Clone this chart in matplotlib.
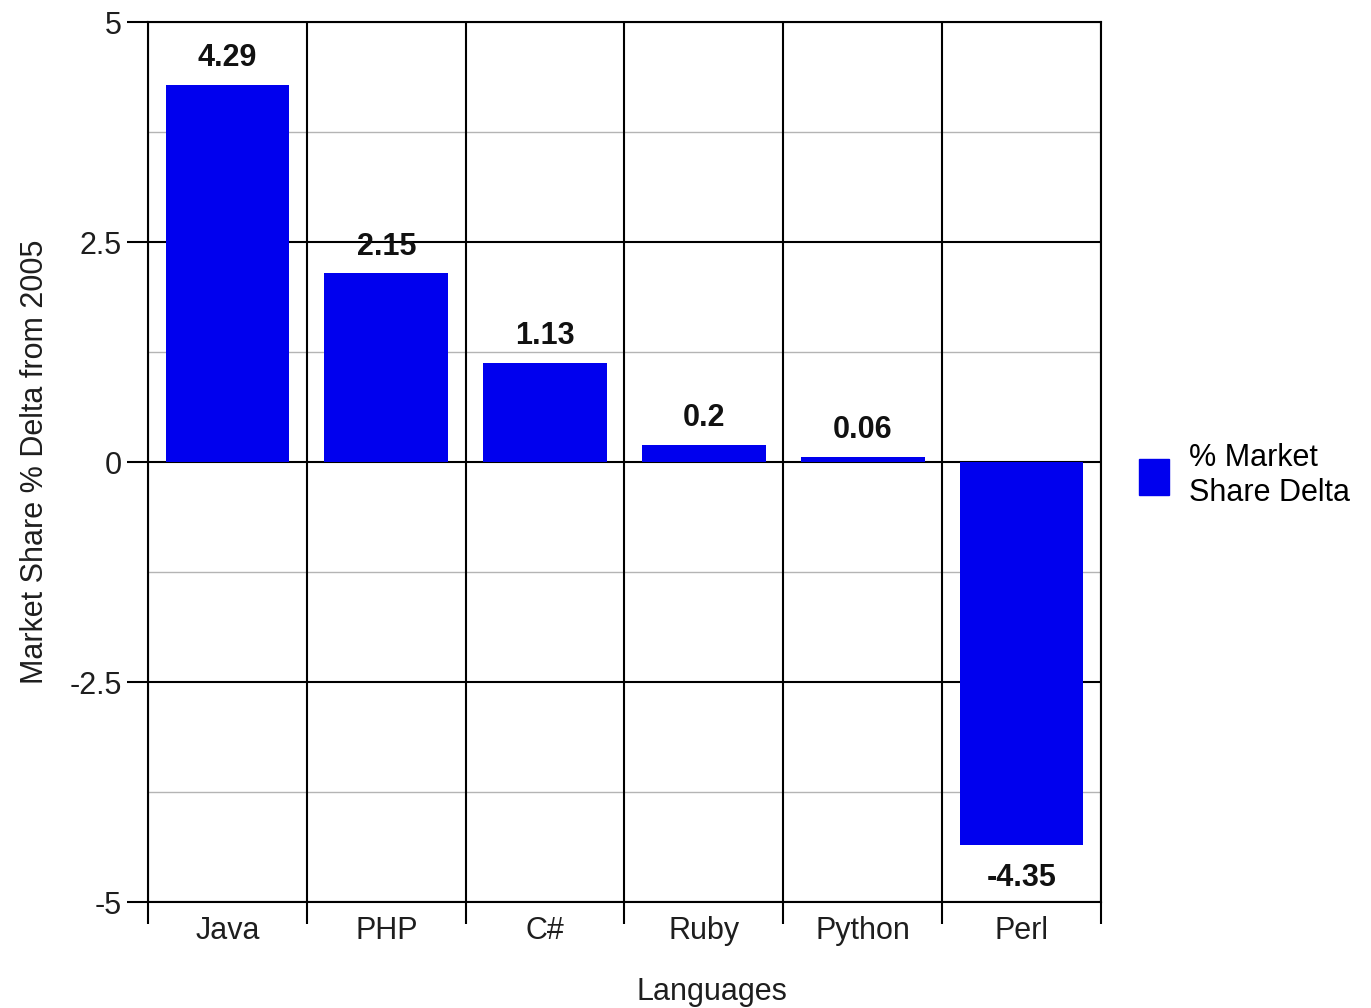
import matplotlib
matplotlib.use("Agg")
import matplotlib.pyplot as plt
from matplotlib.patches import Patch
import numpy as np

plt.rcParams['font.family'] = ['Liberation Sans', 'DejaVu Sans']

languages = ["Java", "PHP", "C#", "Ruby", "Python", "Perl"]
deltas = [4.29, 2.15, 1.13, 0.2, 0.06, -4.35]
value_labels = ["4.29", "2.15", "1.13", "0.2", "0.06", "-4.35"]
y_ticks = [-5, -2.5, 0, 2.5, 5]
y_tick_labels = ["-5", "-2.5", "0", "2.5", "5"]

FS = 22
TXT = "#1e1e1e"

fig = plt.figure(figsize=(13.71, 10.08), dpi=100)
ax = fig.add_axes([0.108, 0.105, 0.695, 0.873])

x = np.arange(len(languages))
bar_color = "#0000ee"
ax.bar(x, deltas, width=0.78, color=bar_color, zorder=3)

ax.set_xlim(-0.5, len(languages) - 0.5)
ax.set_ylim(-5, 5)

# light minor grid between major lines
for yv in np.arange(-5, 5.01, 1.25):
    if abs(yv / 2.5 - round(yv / 2.5)) > 1e-6:
        ax.axhline(yv, color="#b4b4b4", lw=1.0, zorder=1)
for yv in y_ticks:
    ax.axhline(yv, color="black", lw=1.5, zorder=2)
for xv in np.arange(-0.5, len(languages), 1.0):
    ax.axvline(xv, color="black", lw=1.5, zorder=2)

ax.set_yticks(y_ticks)
ax.set_yticklabels(y_tick_labels, fontsize=FS, color=TXT)
ax.set_xticks(np.arange(-0.5, len(languages), 1.0), minor=False)
ax.set_xticklabels([])
ax.set_xticks(x, minor=True)
ax.set_xticklabels(languages, minor=True, fontsize=FS, color=TXT)
ax.tick_params(axis="x", which="major", length=16, width=1.5, direction="out")
ax.tick_params(axis="x", which="minor", length=0, pad=10)
ax.tick_params(axis="y", length=15, width=1.5, direction="out", pad=4)

for sp in ax.spines.values():
    sp.set_linewidth(1.5)

for xi, v, lab in zip(x, deltas, value_labels):
    if v >= 0:
        ax.text(xi, v + 0.13, lab, ha="center", va="bottom", fontsize=FS,
                fontweight="bold", color="#111111")
    else:
        ax.text(xi, v - 0.21, lab, ha="center", va="top", fontsize=FS,
                fontweight="bold", color="#111111")

ax.set_xlabel("Languages", fontsize=FS, color=TXT)
ax.xaxis.set_label_coords(0.592, -0.085)
ax.set_ylabel("Market Share % Delta from 2005", fontsize=FS, color=TXT, labelpad=14)

handle = Patch(facecolor=bar_color, edgecolor=bar_color)
fig.legend([handle], ["% Market\nShare Delta"], loc="center left",
           bbox_to_anchor=(0.815, 0.528), frameon=False, fontsize=FS,
           handlelength=1.0, handleheight=1.45, handletextpad=0.65,
           borderpad=0.2, labelspacing=0.3)

fig.savefig("out.png", dpi=100, facecolor="white")
